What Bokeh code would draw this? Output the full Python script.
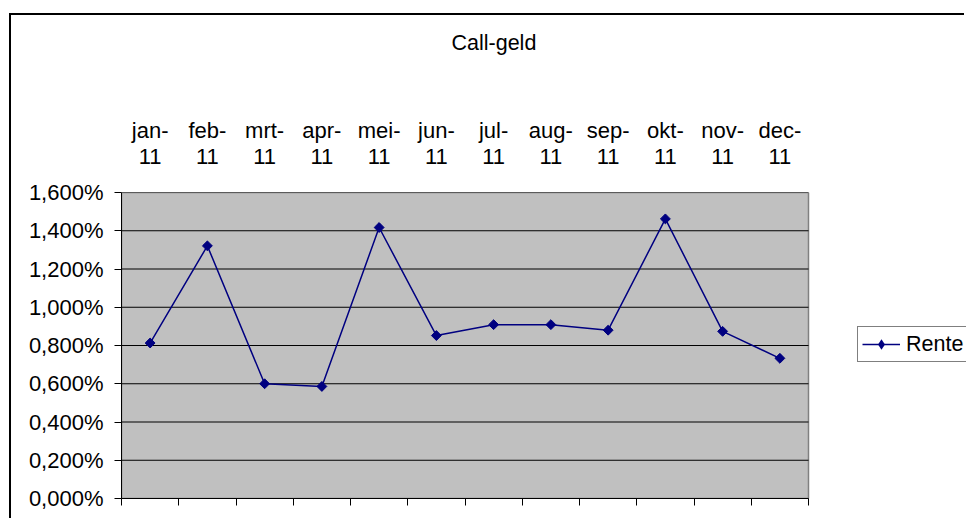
import math
from bokeh.plotting import figure
from bokeh.models import (Range1d, LinearAxis, FixedTicker, CustomJSTickFormatter,
                          Legend, LegendItem, ColumnDataSource)
from bokeh.embed import file_html
from bokeh.resources import INLINE

# ---- data ----
months = ["jan", "feb", "mrt", "apr", "mei", "jun", "jul", "aug", "sep", "okt", "nov", "dec"]
year = "11"
rente = [0.813, 1.321, 0.600, 0.586, 1.417, 0.852, 0.909, 0.909, 0.880, 1.462, 0.874, 0.733]
y_ticks = [0.0, 0.2, 0.4, 0.6, 0.8, 1.0, 1.2, 1.4, 1.6]
title_text = "Call-geld"
series_name = "Rente"

cat_labels = [f"{m}-\n{year}" for m in months]
n = len(months)
xs = [i + 0.5 for i in range(n)]
src = ColumnDataSource(dict(x=xs, y=rente))
grid_src = ColumnDataSource(dict(y=y_ticks))
area_src = ColumnDataSource(dict(left=[0], right=[n], bottom=[y_ticks[0]], top=[y_ticks[-1]]))

FONT = "Liberation Sans"
W, H = 955, 505
BL, BT, PW, FH = 110, 177, 687, 306     # plot-area width PW inside a wider frame
FW = W - BL                              # frame spans to the right edge (room for legend)
x_end = n * FW / PW

p = figure(width=W, height=H, output_backend="svg", toolbar_location=None,
           x_range=Range1d(0, x_end), y_range=Range1d(y_ticks[0], y_ticks[-1]),
           x_axis_location="below", y_axis_location="left",
           min_border_left=BL, min_border_right=0,
           min_border_top=BT, min_border_bottom=H - BT - FH)
p.margin = (13, 0, 0, 9)
p.styles = {"border-left": "2px solid #000000", "border-top": "2px solid #000000"}

p.background_fill_color = "white"
p.border_fill_color = "white"
p.outline_line_color = None

# gray plot area
p.quad(left="left", right="right", bottom="bottom", top="top", source=area_src,
       fill_color="#C0C0C0", line_color="#808080", line_width=1.5)

# horizontal gridlines over the plot area
p.segment(x0=0, x1=n, y0="y", y1="y", source=grid_src, line_color="black", line_width=1)

# title
p.title.text = title_text
p.title.text_font = FONT
p.title.text_font_size = "21.5px"
p.title.text_font_style = "normal"
p.title.text_color = "black"
p.title.align = "left"
p.title.offset = 330
try:
    p.title.standoff = 0
except Exception:
    pass

# bottom axis: ticks at category boundaries, no labels
xb = p.xaxis[0]
xb.ticker = FixedTicker(ticks=list(range(n + 1)))
xb.bounds = (0, n)
xb.major_label_text_font_size = "0px"
xb.major_label_text_color = None
xb.major_label_standoff = 0
xb.major_tick_in = 0
xb.major_tick_out = 7
xb.minor_tick_line_color = None
xb.axis_line_color = "black"
xb.major_tick_line_color = "black"

# top axis: category labels (blank axis label used as spacer below the title)
top = LinearAxis(ticker=FixedTicker(ticks=xs),
                 formatter=CustomJSTickFormatter(args=dict(labels=cat_labels),
                                                 code="return labels[Math.floor(tick)];"))
top.axis_line_color = None
top.major_tick_line_color = None
top.minor_tick_line_color = None
top.major_label_text_font = FONT
top.major_label_text_font_size = "22px"
top.major_label_text_color = "black"
top.major_label_text_line_height = 1.04
top.major_label_standoff = 18
top.axis_label = " "
top.axis_label_text_font_size = "12px"
top.axis_label_standoff = 43
p.add_layout(top, "above")

# y axis
ya = p.yaxis[0]
ya.ticker = FixedTicker(ticks=y_ticks)
ya.formatter = CustomJSTickFormatter(code="return tick.toFixed(3).replace('.', ',') + '%';")
ya.major_label_text_font = FONT
ya.major_label_text_font_size = "22px"
ya.major_label_text_color = "black"
ya.major_tick_in = 0
ya.major_tick_out = 7
ya.minor_tick_line_color = None
ya.axis_line_color = "black"
ya.major_tick_line_color = "black"
ya.major_label_standoff = 11

p.xgrid.grid_line_color = None
p.ygrid.grid_line_color = None

ln = p.line("x", "y", source=src, line_color="#000080", line_width=1.5)
# diamond swatch for the legend (lies fully under the rotated-square markers)
leg_mark = p.scatter("x", "y", source=src, marker="diamond", size=9,
                     fill_color="#000080", line_color=None)
sc = p.scatter("x", "y", source=src, marker="square", angle=math.pi / 4, size=7,
               fill_color="#000080", line_color="#000080")

legend = Legend(items=[LegendItem(label=series_name, renderers=[ln, leg_mark])],
                location=(736, 136), margin=0, padding=4, spacing=0,
                glyph_width=38, glyph_height=26, label_height=22, label_standoff=6,
                label_text_font=FONT, label_text_font_size="21.5px",
                label_text_color="black",
                border_line_color="black", border_line_width=1,
                background_fill_color="white", background_fill_alpha=1.0)
p.add_layout(legend, "center")

open("out.html", "w").write(file_html(p, INLINE))
